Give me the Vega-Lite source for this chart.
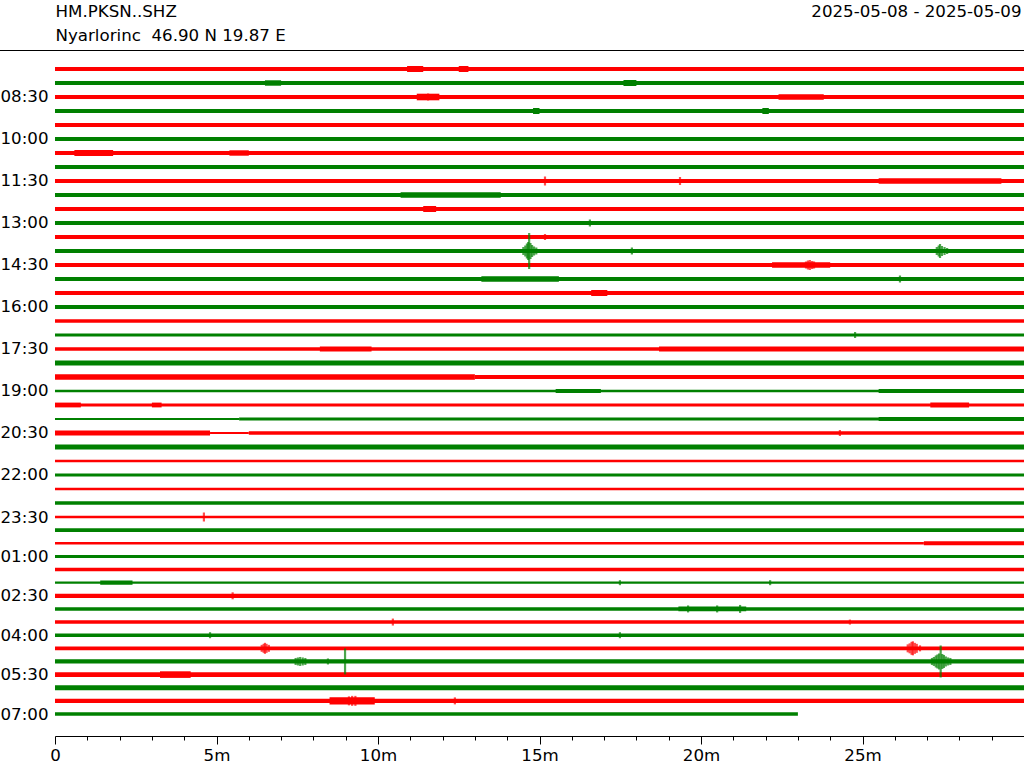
{
  "$schema": "https://vega.github.io/schema/vega-lite/v6.json",
  "width": 969,
  "height": 686,
  "autosize": "none",
  "padding": {"left": 55, "top": 50, "right": 0, "bottom": 32},
  "background": "white",
  "config": {"view": {"stroke": null}, "font": "DejaVu Sans"},
  "resolve": {"axis": {"x": "independent"}},
  "datasets": {
    "bands": [
      {"r":0,"s":0,"e":30,"w":3.5},{"r":0,"s":10.9,"e":11.4,"w":5},{"r":0,"s":12.5,"e":12.8,"w":5},
      {"r":1,"s":0,"e":30,"w":3.5},{"r":1,"s":6.5,"e":7.0,"w":4.5},{"r":1,"s":17.6,"e":18.0,"w":5},
      {"r":2,"s":0,"e":30,"w":3.5},{"r":2,"s":11.2,"e":11.9,"w":5.5},{"r":2,"s":22.4,"e":23.8,"w":4.5},
      {"r":3,"s":0,"e":30,"w":3.5},{"r":3,"s":14.8,"e":15.0,"w":5},{"r":3,"s":21.9,"e":22.1,"w":5},
      {"r":4,"s":0,"e":30,"w":3.5},
      {"r":5,"s":0,"e":30,"w":3.5},
      {"r":6,"s":0,"e":30,"w":3.5},{"r":6,"s":0.6,"e":1.8,"w":5},{"r":6,"s":5.4,"e":6.0,"w":4.5},
      {"r":7,"s":0,"e":30,"w":3.5},
      {"r":8,"s":0,"e":30,"w":3.5},{"r":8,"s":25.5,"e":29.3,"w":4.5},
      {"r":9,"s":0,"e":30,"w":3.5},{"r":9,"s":10.7,"e":13.8,"w":4.5},
      {"r":10,"s":0,"e":30,"w":3.5},{"r":10,"s":11.4,"e":11.8,"w":5},
      {"r":11,"s":0,"e":30,"w":3.5},
      {"r":12,"s":0,"e":30,"w":3.5},
      {"r":13,"s":0,"e":30,"w":3.5},
      {"r":14,"s":0,"e":30,"w":3.5},{"r":14,"s":22.2,"e":24.0,"w":4.5},
      {"r":15,"s":0,"e":30,"w":3.5},{"r":15,"s":13.2,"e":15.6,"w":4.5},
      {"r":16,"s":0,"e":30,"w":3.5},{"r":16,"s":16.6,"e":17.1,"w":5},
      {"r":17,"s":0,"e":30,"w":3.5},
      {"r":18,"s":0,"e":30,"w":3},
      {"r":19,"s":0,"e":30,"w":2.5},
      {"r":20,"s":0,"e":30,"w":3},{"r":20,"s":8.2,"e":9.8,"w":4},{"r":20,"s":18.7,"e":30,"w":4},
      {"r":21,"s":0,"e":30,"w":4},
      {"r":22,"s":0,"e":13,"w":4.5},{"r":22,"s":13,"e":30,"w":3.5},
      {"r":23,"s":0,"e":30,"w":2},{"r":23,"s":15.5,"e":16.9,"w":3.5},{"r":23,"s":25.5,"e":30,"w":3.5},
      {"r":24,"s":0,"e":30,"w":2.5},{"r":24,"s":0,"e":0.8,"w":4},{"r":24,"s":3.0,"e":3.3,"w":4},{"r":24,"s":27.1,"e":28.3,"w":4},
      {"r":25,"s":0,"e":5.7,"w":1.5},{"r":25,"s":5.7,"e":30,"w":2.5},{"r":25,"s":25.5,"e":30,"w":3.5},
      {"r":26,"s":0,"e":4.8,"w":4},{"r":26,"s":4.8,"e":6.0,"w":1.5},{"r":26,"s":6.0,"e":30,"w":3},
      {"r":27,"s":0,"e":30,"w":4},
      {"r":28,"s":0,"e":30,"w":2},
      {"r":29,"s":0,"e":30,"w":2.5},
      {"r":30,"s":0,"e":30,"w":2},
      {"r":31,"s":0,"e":30,"w":3},
      {"r":32,"s":0,"e":30,"w":2},
      {"r":33,"s":0,"e":30,"w":3},
      {"r":34,"s":0,"e":26.9,"w":2},{"r":34,"s":26.9,"e":30,"w":3.5},
      {"r":35,"s":0,"e":30,"w":2.5},
      {"r":36,"s":0,"e":30,"w":3},
      {"r":37,"s":0,"e":30,"w":2},{"r":37,"s":1.4,"e":2.4,"w":3.5},
      {"r":38,"s":0,"e":30,"w":3.5},
      {"r":39,"s":0,"e":30,"w":3},{"r":39,"s":19.3,"e":21.4,"w":4},
      {"r":40,"s":0,"e":30,"w":3},
      {"r":41,"s":0,"e":30,"w":3},
      {"r":42,"s":0,"e":30,"w":3},
      {"r":43,"s":0,"e":30,"w":3.5},
      {"r":44,"s":0,"e":30,"w":4},{"r":44,"s":3.25,"e":4.2,"w":5.5},
      {"r":45,"s":0,"e":30,"w":4},
      {"r":46,"s":0,"e":30,"w":3.5},{"r":46,"s":8.5,"e":9.9,"w":6},
      {"r":47,"s":0,"e":23,"w":3}
    ],
    "events": [
      {"r":0,"t":11.15,"a":6},{"r":0,"t":12.63,"a":6},
      {"r":1,"t":17.8,"a":6},
      {"r":2,"t":11.55,"a":7},
      {"r":3,"t":14.92,"a":6},{"r":3,"t":21.98,"a":6},
      {"r":8,"t":15.17,"a":9},{"r":8,"t":19.35,"a":8},
      {"r":11,"t":16.56,"a":7},
      {"r":12,"t":15.17,"a":6},
      {"r":13,"t":14.5,"a":8},{"r":13,"t":14.56,"a":11},{"r":13,"t":14.61,"a":15},{"r":13,"t":14.65,"a":18},{"r":13,"t":14.68,"a":36},{"r":13,"t":14.72,"a":16},{"r":13,"t":14.77,"a":12},{"r":13,"t":14.83,"a":9},{"r":13,"t":14.9,"a":7},
      {"r":13,"t":17.86,"a":7},
      {"r":13,"t":27.3,"a":8},{"r":13,"t":27.36,"a":11},{"r":13,"t":27.4,"a":14},{"r":13,"t":27.46,"a":10},{"r":13,"t":27.54,"a":8},{"r":13,"t":27.62,"a":6},
      {"r":14,"t":23.25,"a":7},{"r":14,"t":23.31,"a":9},{"r":14,"t":23.37,"a":10},{"r":14,"t":23.44,"a":8},{"r":14,"t":23.5,"a":7},
      {"r":15,"t":26.16,"a":7},
      {"r":16,"t":16.78,"a":6},
      {"r":19,"t":24.77,"a":6},
      {"r":26,"t":24.3,"a":6},
      {"r":32,"t":4.61,"a":9},
      {"r":37,"t":17.49,"a":5},{"r":37,"t":22.14,"a":5},
      {"r":38,"t":5.5,"a":7},
      {"r":39,"t":19.6,"a":7},{"r":39,"t":20.5,"a":7},{"r":39,"t":21.21,"a":8},
      {"r":40,"t":10.46,"a":7},{"r":40,"t":24.61,"a":5},
      {"r":41,"t":4.8,"a":6},{"r":41,"t":17.49,"a":6},
      {"r":42,"t":6.4,"a":7},{"r":42,"t":6.46,"a":9},{"r":42,"t":6.5,"a":11},{"r":42,"t":6.55,"a":9},{"r":42,"t":6.62,"a":7},
      {"r":42,"t":26.4,"a":8},{"r":42,"t":26.46,"a":10},{"r":42,"t":26.52,"a":13},{"r":42,"t":26.56,"a":14},{"r":42,"t":26.62,"a":11},{"r":42,"t":26.68,"a":9},{"r":42,"t":26.78,"a":6},
      {"r":43,"t":7.45,"a":7},{"r":43,"t":7.52,"a":8},{"r":43,"t":7.59,"a":9},{"r":43,"t":7.67,"a":8},{"r":43,"t":7.75,"a":7},{"r":43,"t":8.45,"a":6},{"r":43,"t":8.98,"a":26},
      {"r":43,"t":27.15,"a":7},{"r":43,"t":27.21,"a":9},{"r":43,"t":27.27,"a":12},{"r":43,"t":27.32,"a":14},{"r":43,"t":27.37,"a":16},{"r":43,"t":27.42,"a":32},{"r":43,"t":27.47,"a":15},{"r":43,"t":27.52,"a":13},{"r":43,"t":27.58,"a":10},{"r":43,"t":27.65,"a":8},{"r":43,"t":27.72,"a":7},
      {"r":46,"t":9.1,"a":9},{"r":46,"t":9.2,"a":10},{"r":46,"t":9.3,"a":10},{"r":46,"t":12.38,"a":7}
    ]
  },
  "layer": [
    {
      "data": {"name": "bands"},
      "mark": {"type": "rule"},
      "encoding": {
        "x": {
          "field": "s", "type": "quantitative",
          "scale": {"domain": [0, 30], "nice": false, "zero": false},
          "axis": {
            "orient": "bottom",
            "values": [0, 5, 10, 15, 20, 25],
            "labelExpr": "datum.value == 0 ? '0' : datum.value + 'm'",
            "labelOverlap": false, "labelFlush": false,
            "labelFontSize": 16.67, "labelColor": "black", "labelPadding": 3,
            "tickSize": 8, "tickColor": "black", "domainColor": "black", "grid": false,
            "title": "2025-05-08 - 2025-05-09",
            "titleX": 966, "titleY": -719.3, "titleAlign": "right", "titleBaseline": "alphabetic",
            "titleFontSize": 16.67, "titleFontWeight": "normal", "titleColor": "black"
          }
        },
        "x2": {"field": "e"},
        "y": {
          "field": "r", "type": "quantitative",
          "scale": {"domain": [-1.357, 32, 48.675], "range": [0, 467, 686], "nice": false, "zero": false},
          "axis": {
            "values": [2,5,8,11,14,17,20,23,26,29,32,35,38,41,44,47],
            "labelExpr": "timeFormat(datetime(2025,4,8,7,30+datum.value*30),'%H:%M')",
            "domain": false, "ticks": false, "grid": false, "labelFlush": false, "labelOverlap": false,
            "labelPadding": 7, "labelFontSize": 16.67, "labelColor": "black",
            "title": ["HM.PKSN..SHZ", "Nyarlorinc \u00a046.90 N 19.87 E"],
            "titleAngle": 0, "titleAlign": "left", "titleBaseline": "alphabetic",
            "titleX": 0, "titleY": -33.3, "titleLineHeight": 24,
            "titleFontSize": 16.67, "titleFontWeight": "normal", "titleColor": "black"
          }
        },
        "color": {"field": "r", "type": "ordinal", "scale": {"domain": [0,1,2,3,4,5,6,7,8,9,10,11,12,13,14,15,16,17,18,19,20,21,22,23,24,25,26,27,28,29,30,31,32,33,34,35,36,37,38,39,40,41,42,43,44,45,46,47], "range": ["#ff0000", "#008000"]}, "legend": null},
        "strokeWidth": {"field": "w", "type": "quantitative", "scale": {"domain": [0, 10], "range": [0, 12]}, "legend": null}
      }
    },
    {
      "data": {"name": "events"},
      "mark": {"type": "tick", "orient": "vertical", "thickness": 2.2},
      "encoding": {
        "x": {
          "field": "t", "type": "quantitative",
          "axis": {
            "orient": "bottom",
            "values": [1,2,3,4,6,7,8,9,11,12,13,14,16,17,18,19,21,22,23,24,26,27,28,29],
            "labels": false, "domain": false, "grid": false, "title": null,
            "tickSize": 4, "tickColor": "black"
          }
        },
        "y": {"field": "r", "type": "quantitative"},
        "color": {"field": "r", "type": "ordinal", "legend": null},
        "size": {"field": "a", "type": "quantitative", "scale": {"domain": [0, 40], "range": [0, 40]}, "legend": null}
      }
    },
    {
      "data": {"values": [{}]},
      "mark": {"type": "rule", "clip": false, "color": "black", "strokeWidth": 1},
      "encoding": {"x": {"datum": -1.703, "axis": null}, "x2": {"datum": 30}, "y": {"datum": -1.321}}
    }
  ]
}
